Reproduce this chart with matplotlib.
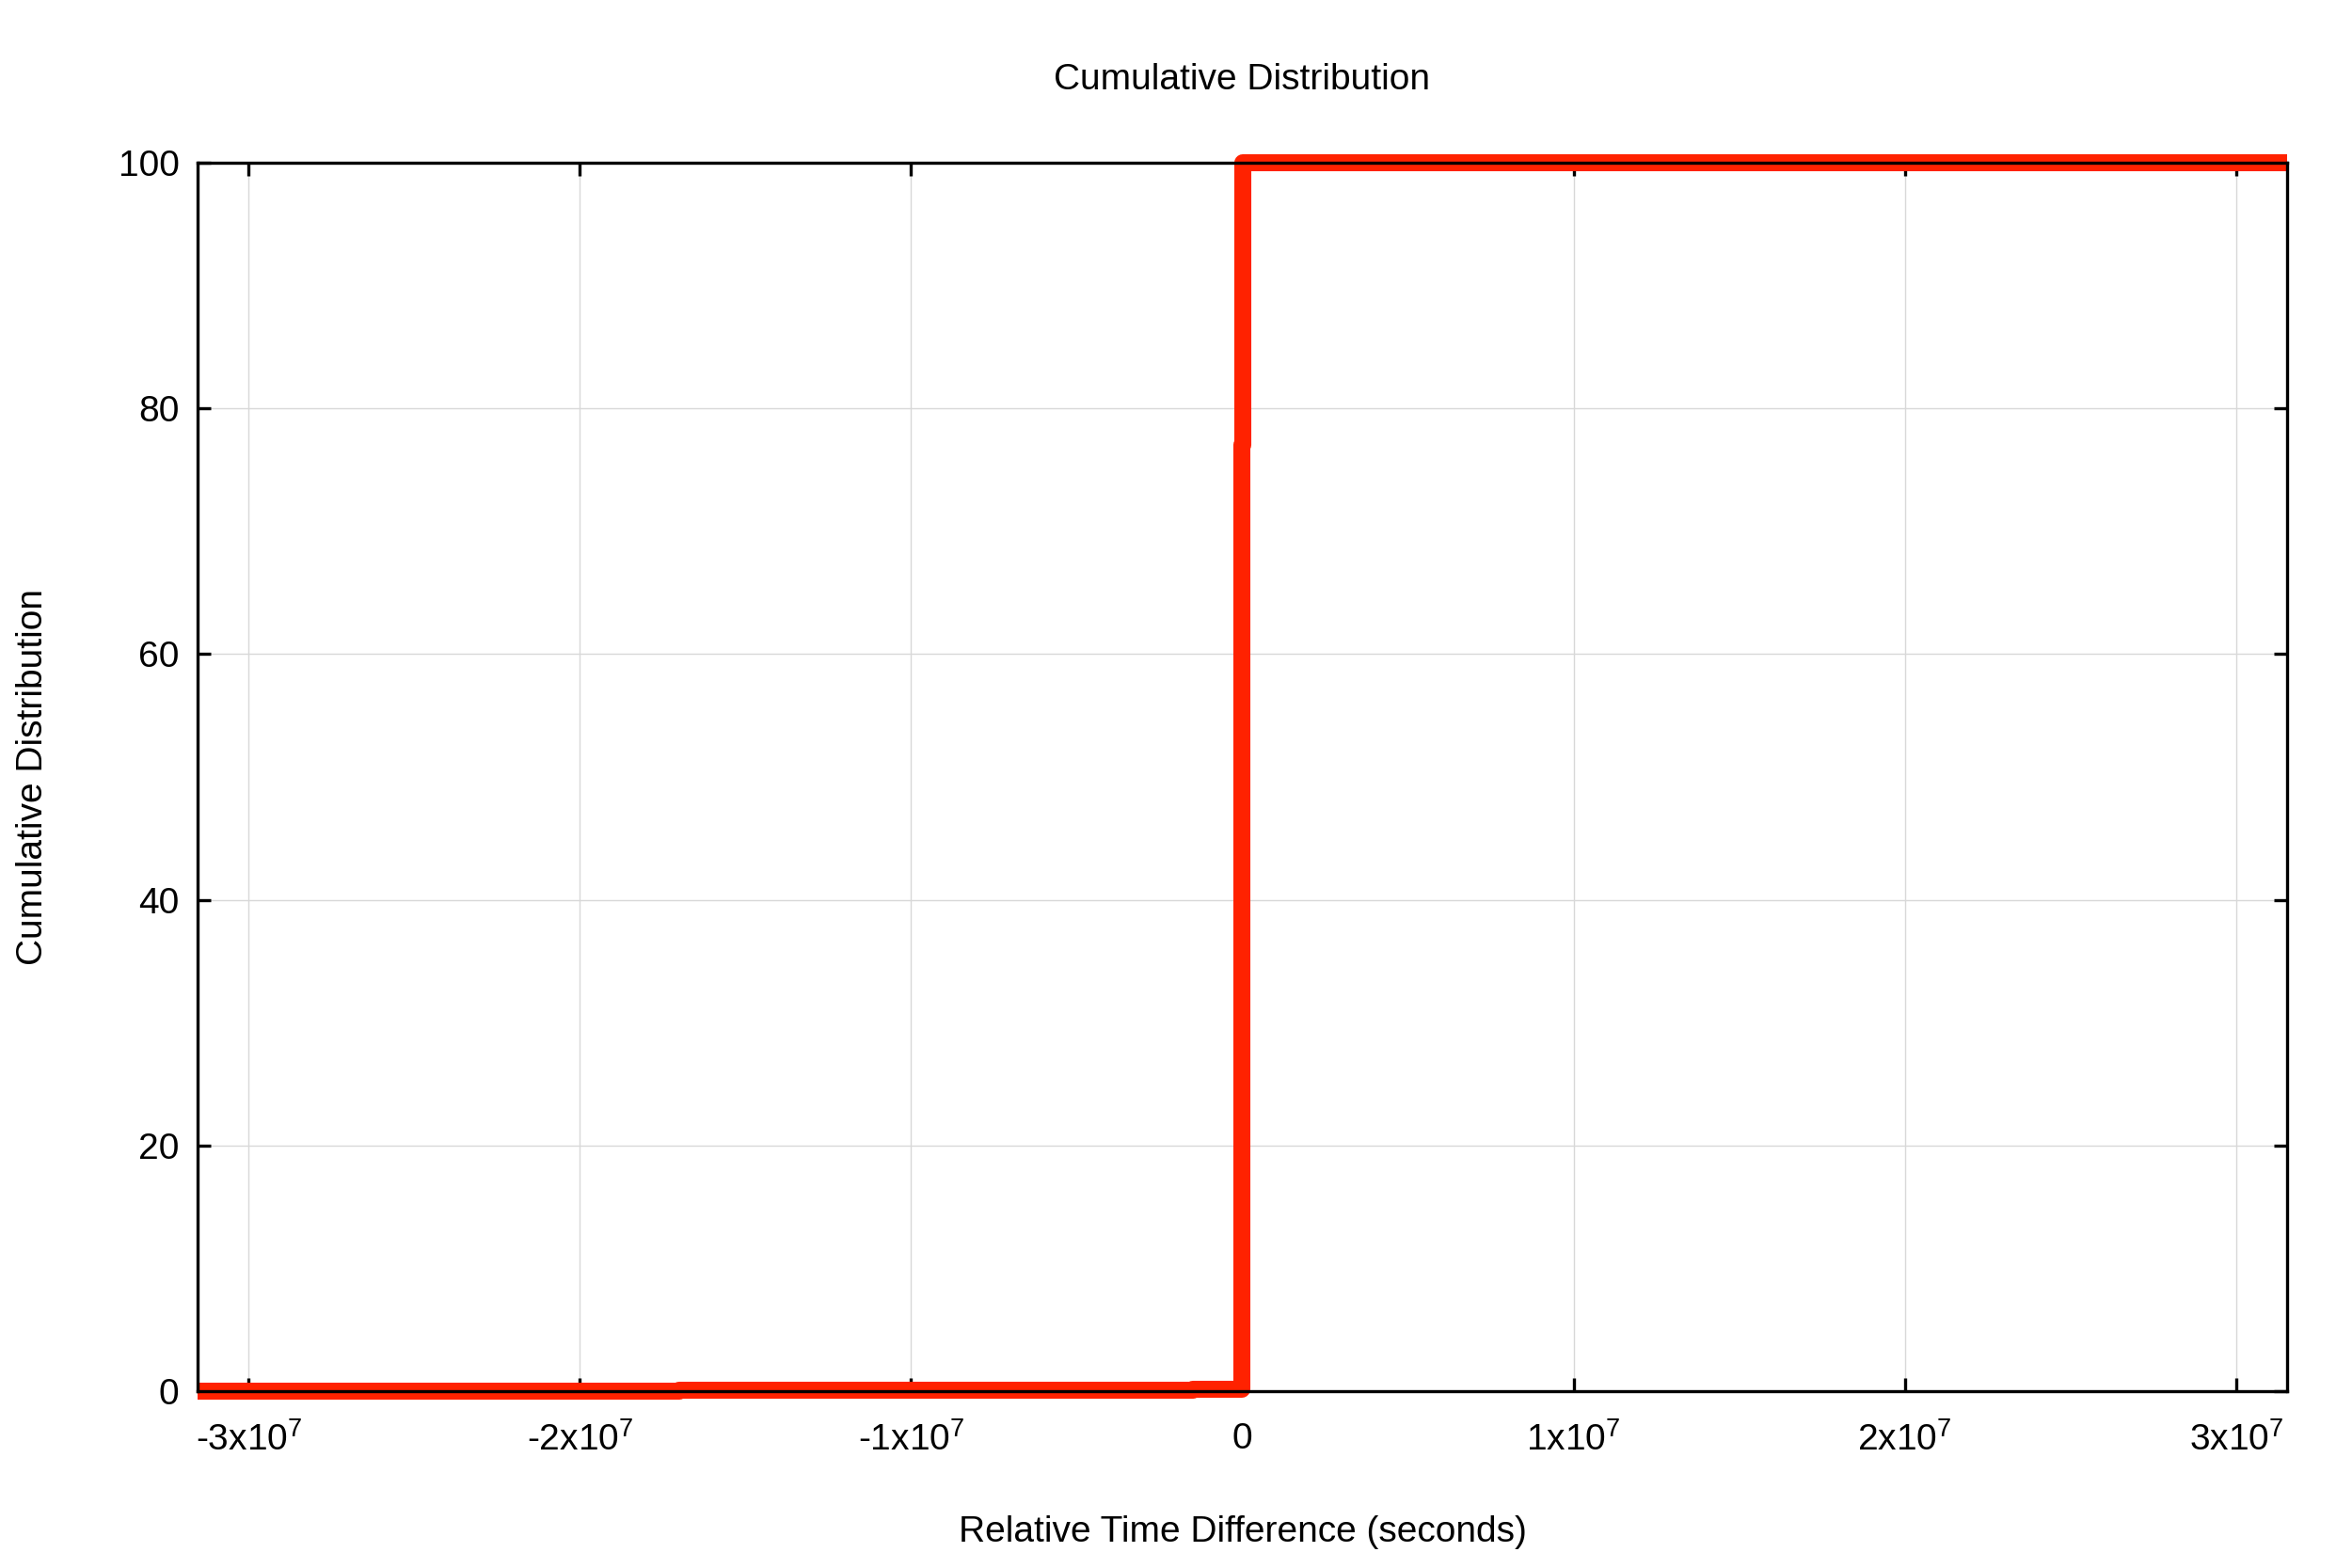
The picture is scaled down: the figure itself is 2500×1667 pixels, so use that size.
import matplotlib
matplotlib.use('Agg')
import matplotlib.pyplot as plt
from matplotlib.ticker import FixedLocator, FuncFormatter

plt.rcParams['font.family'] = ['Liberation Sans', 'DejaVu Sans']
plt.rcParams['mathtext.default'] = 'regular'

# CDF of relative time difference (seconds -> percent)
time_diff = [-3.154e7, -1.7e7, -6.5e6, -1.5e6, -1.0e5, -2.0e4, 0.0, 2.0e4, 3.154e7]
cdf_pct = [0.0, 0.05, 0.10, 0.12, 0.15, 77.0, 99.6, 100.0, 100.0]

x_ticks = [-3e7, -2e7, -1e7, 0, 1e7, 2e7, 3e7]
y_ticks = [0, 20, 40, 60, 80, 100]


def sci_fmt(v, pos):
    if v == 0:
        return '0'
    m = int(round(v / 1e7))
    return f'{m}x10$^{{7}}$'


fig = plt.figure(figsize=(12.5, 8.335), dpi=200)
ax = fig.add_axes([0.084, 0.1128, 0.8884, 0.7834])

ax.step(time_diff, cdf_pct, where='post', color='#ff2200', lw=6.5, zorder=2,
        clip_on=False, solid_capstyle='butt')

ax.set_xlim(-3.154e7, 3.154e7)
ax.set_ylim(0, 100)
ax.xaxis.set_major_locator(FixedLocator(x_ticks))
ax.yaxis.set_major_locator(FixedLocator(y_ticks))
ax.xaxis.set_major_formatter(FuncFormatter(sci_fmt))

ax.grid(True, color='#d8d8d8', lw=0.5)
ax.tick_params(direction='in', length=5, width=1.2, top=True, right=True,
               labelsize=14)
ax.tick_params(axis='x', pad=12)
ax.tick_params(axis='y', pad=7)
for s in ax.spines.values():
    s.set_linewidth(1.2)
    s.set_zorder(3)

ax.set_title('Cumulative Distribution', fontsize=14, pad=28)
ax.set_xlabel('Relative Time Difference (seconds)', fontsize=14, labelpad=22)
ax.set_ylabel('Cumulative Distribution', fontsize=14, labelpad=26)

fig.savefig('out.png', dpi=200)
